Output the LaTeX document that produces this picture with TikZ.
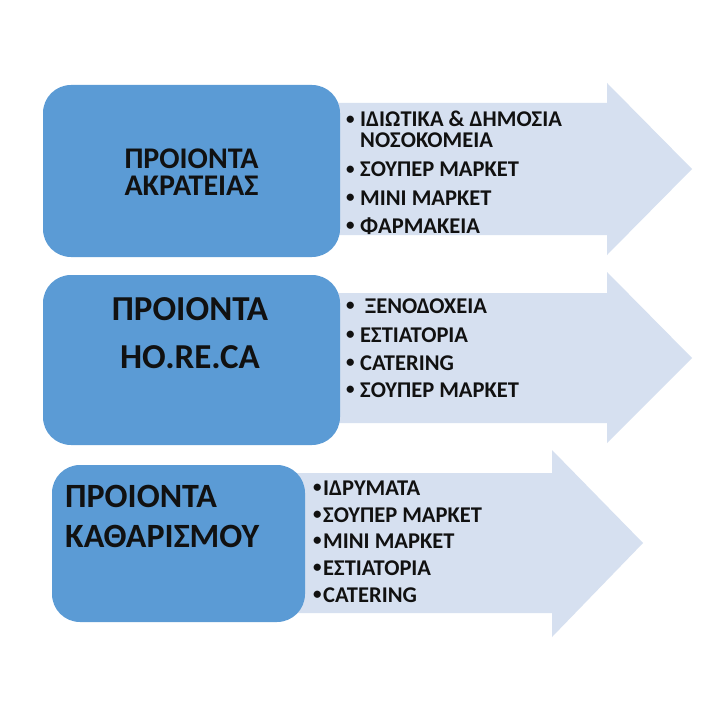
\documentclass[tikz,border=0pt]{standalone}
\usepackage{fontspec}
\setmainfont{Carlito}
\definecolor{boxblue}{HTML}{5B9BD5}
\definecolor{arrowfill}{HTML}{D6E0F0}
\definecolor{txt}{HTML}{111111}
\newcommand{\bul}[1]{\makebox[#1][l]{\raisebox{2.5pt}{\fontsize{17}{17}\selectfont •}}}
\begin{document}
\begin{tikzpicture}[x=1pt,y=-1pt,
  boxshape/.style={fill=boxblue,draw=none,rounded corners=28pt},
  arrowshape/.style={fill=arrowfill,draw=none},
  titlebig/.style={font=\bfseries\fontsize{30}{27}\selectfont,text=txt,inner sep=0pt,anchor=base,align=center},
  titlemid/.style={font=\bfseries\fontsize{35}{48}\selectfont,text=txt,inner sep=0pt,anchor=base,align=center},
  titleleft/.style={font=\bfseries\fontsize{34}{40}\selectfont,text=txt,inner sep=0pt,anchor=base west,align=left},
  item/.style={font=\bfseries\fontsize{22.5}{21}\selectfont,text=txt,inner sep=0pt,anchor=base west,align=left}]
\useasboundingbox (0,0) rectangle (722,722);
\fill[white] (0,0) rectangle (722,722);
% row 1
\fill[arrowshape] (320,103) -- (607,103) -- (607,83) -- (692,169) -- (607,255) -- (607,235) -- (320,235) -- cycle;
\fill[boxshape] (43,85) rectangle (340,257);
\node[titlebig] (t1) at (191.5,196) {ΠΡΟΙΟΝΤΑ\\ΑΚΡΑΤΕΙΑΣ};
\node[item] (l1a) at (346,148) {\bul{14pt}ΙΔΙΩΤΙΚΑ \& ΔΗΜΟΣΙΑ\\\hspace*{14pt}ΝΟΣΟΚΟΜΕΙΑ};
\node[item] (l1c) at (346,177) {\bul{14pt}ΣΟΥΠΕΡ ΜΑΡΚΕΤ};
\node[item] (l1d) at (346,205) {\bul{14pt}ΜΙΝΙ ΜΑΡΚΕΤ};
\node[item] (l1e) at (346,233) {\bul{14pt}ΦΑΡΜΑΚΕΙΑ};
% row 2
\fill[arrowshape] (320,293) -- (607,293) -- (607,272) -- (692,358) -- (607,443) -- (607,423) -- (320,423) -- cycle;
\fill[boxshape] (43,275) rectangle (340,445);
\node[titlemid] (t2) at (190,368) {ΠΡΟΙΟΝΤΑ\\HO.RE.CA};
\node[item] (l2a) at (346,313) {\bul{19pt}ΞΕΝΟΔΟΧΕΙΑ};
\node[item] (l2b) at (346,342) {\bul{14pt}ΕΣΤΙΑΤΟΡΙΑ};
\node[item] (l2c) at (346,370) {\bul{14pt}CATERING};
\node[item] (l2d) at (346,397) {\bul{14pt}ΣΟΥΠΕΡ ΜΑΡΚΕΤ};
% row 3
\fill[arrowshape] (290,473) -- (552,473) -- (552,450) -- (643,543) -- (552,637) -- (552,613) -- (290,613) -- cycle;
\fill[boxshape] (52,465) rectangle (305,622);
\node[titleleft] (t3) at (65,547) {ΠΡΟΙΟΝΤΑ\\ΚΑΘΑΡΙΣΜΟΥ};
\node[item] (l3a) at (313,495) {\bul{10pt}ΙΔΡΥΜΑΤΑ};
\node[item] (l3b) at (313,522) {\bul{10pt}ΣΟΥΠΕΡ ΜΑΡΚΕΤ};
\node[item] (l3c) at (313,548) {\bul{10pt}ΜΙΝΙ ΜΑΡΚΕΤ};
\node[item] (l3d) at (313,575) {\bul{10pt}ΕΣΤΙΑΤΟΡΙΑ};
\node[item] (l3e) at (313,602) {\bul{10pt}CATERING};
\end{tikzpicture}
\end{document}
